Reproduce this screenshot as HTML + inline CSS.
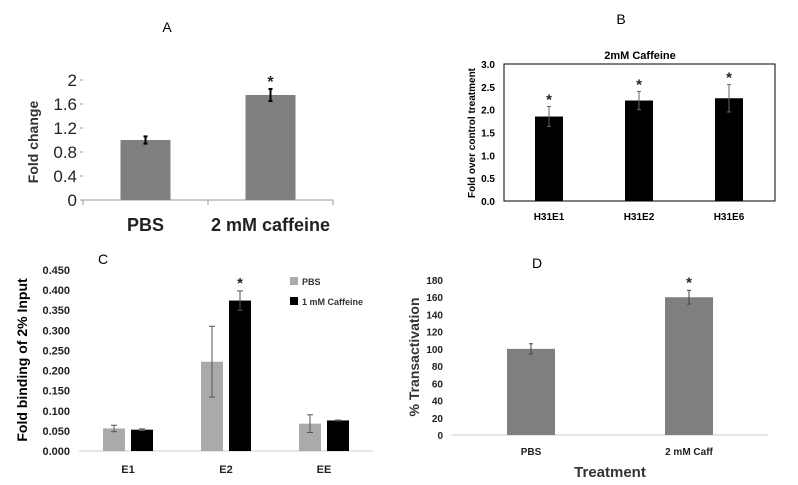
<!DOCTYPE html>
<html><head><meta charset="utf-8"><style>
html,body{margin:0;padding:0;background:#fff;}
svg{display:block;font-family:"Liberation Sans",sans-serif;}
</style></head><body>
<svg id="s" width="798" height="485" viewBox="0 0 798 485">
<text x="167" y="32" font-size="14" text-anchor="middle">A</text>
<text x="621" y="24" font-size="14" text-anchor="middle">B</text>
<text x="103" y="264" font-size="14" text-anchor="middle">C</text>
<text x="537" y="268" font-size="14" text-anchor="middle">D</text>
<text transform="translate(38,142) rotate(-90)" font-size="14" font-weight="bold" fill="#333" text-anchor="middle">Fold change</text>
<text x="640" y="59" font-size="11" font-weight="bold" text-anchor="middle">2mM Caffeine</text>
<text transform="translate(475,133) rotate(-90)" font-size="10" font-weight="bold" text-anchor="middle">Fold over control treatment</text>
<rect x="504" y="64" width="271" height="137" fill="none" stroke="#000" stroke-width="1"/>
<text transform="translate(27,360) rotate(-90)" font-size="14" font-weight="bold" text-anchor="middle">Fold binding of 2% Input</text>
<rect x="290" y="277" width="8" height="8" fill="#aaa"/>
<text x="302" y="285" font-size="9" font-weight="bold" fill="#333">PBS</text>
<rect x="290" y="297" width="8" height="8" fill="#000"/>
<text x="302" y="305" font-size="9" font-weight="bold" fill="#333">1 mM Caffeine</text>
<text transform="translate(419,357) rotate(-90)" font-size="14" font-weight="bold" fill="#333" text-anchor="middle">% Transactivation</text>
<text x="610" y="477" font-size="15" font-weight="bold" fill="#333" text-anchor="middle">Treatment</text>
</svg>
<script>
const aCats=["PBS","2 mM caffeine"];
const aVals=[1.0,1.75];
const aErr=[0.06,0.1];
const aTicks=[0,0.4,0.8,1.2,1.6,2];
const aTickLabels=["0","0.4","0.8","1.2","1.6","2"];
const aStars=[false,true];

const bCats=["H31E1","H31E2","H31E6"];
const bVals=[1.85,2.2,2.25];
const bErr=[0.22,0.2,0.3];
const bTicks=[0,0.5,1,1.5,2,2.5,3];
const bTickLabels=["0.0","0.5","1.0","1.5","2.0","2.5","3.0"];

const cCats=["E1","E2","EE"];
const cPbs=[0.056,0.222,0.068];
const cPbsErr=[0.008,0.088,0.022];
const cCaf=[0.053,0.374,0.076];
const cCafErr=[0.002,0.024,0.001];
const cTicks=[0,0.05,0.1,0.15,0.2,0.25,0.3,0.35,0.4,0.45];
const cTickLabels=["0.000","0.050","0.100","0.150","0.200","0.250","0.300","0.350","0.400","0.450"];

const dCats=["PBS","2 mM Caff"];
const dVals=[100,160];
const dErr=[6,8];
const dTicks=[0,20,40,60,80,100,120,140,160,180];
const dTickLabels=["0","20","40","60","80","100","120","140","160","180"];

const svg=document.getElementById('s');
const NS="http://www.w3.org/2000/svg";
function mk(tag,at,txt){const e=document.createElementNS(NS,tag);for(const k in at)e.setAttribute(k,at[k]);if(txt!==undefined)e.textContent=txt;svg.appendChild(e);return e;}
function scale(d0,d1,r0,r1){return v=>r0+(v-d0)/(d1-d0)*(r1-r0);}
function errBar(x,yTop,yBot,col,cap,w){
  const l=mk('line',{x1:x,x2:x,y1:yTop,y2:yBot,stroke:col,'stroke-width':w});
  
  
  [yTop,yBot].forEach(yy=>{const c=mk('line',{x1:x-cap,x2:x+cap,y1:yy,y2:yy,stroke:col,'stroke-width':w});
    
    });
}
function star(x,y,size){const s=mk('text',{x:x,y:y,'font-size':size,'text-anchor':'middle','font-weight':'bold',fill:'#222'},'*');
  
  }

// Panel A
(function(){
  const y=scale(0,2,200,80);
  const x0=83,x1=333,band=(x1-x0)/aCats.length;
  aTicks.forEach((t,i)=>{const tl=mk('text',{x:77,y:y(t)+6,'font-size':17,'text-anchor':'end',fill:'#222'},aTickLabels[i]);
    
    
    const tk=mk('line',{x1:80,x2:83,y1:y(t),y2:y(t),stroke:'#999'});
    
    });
  const ax=mk('line',{x1:x0,x2:x1,y1:y(0),y2:y(0),stroke:'#999'});
  
  
  for(let i=0;i<=aCats.length;i++){const tk=mk('line',{x1:x0+i*band,x2:x0+i*band,y1:200,y2:205,stroke:'#999'});
    
    }
  aCats.forEach((c,i)=>{const cx=x0+band*(i+0.5),w=50;
    const b=mk('rect',{x:cx-w/2,y:y(aVals[i]),width:w,height:y(0)-y(aVals[i]),fill:'#7f7f7f'});
    
    
    errBar(cx,y(aVals[i]+aErr[i]),y(aVals[i]-aErr[i]),'#000',2,2);
    if(aStars[i])star(cx,y(aVals[i]+aErr[i])-2,16);
    const l=mk('text',{x:cx,y:231,'font-size':18,'font-weight':'bold','text-anchor':'middle',fill:'#222'},c);
    
    });
})();

// Panel B
(function(){
  const y=scale(0,3,201,64);
  bTicks.forEach((t,i)=>{const tl=mk('text',{x:495,y:y(t)+4,'font-size':10,'font-weight':'bold','text-anchor':'end'},bTickLabels[i]);
    
    });
  const x0=504,band=90;
  bCats.forEach((c,i)=>{const cx=x0+band*(i+0.5),w=28;
    const b=mk('rect',{x:cx-w/2,y:y(bVals[i]),width:w,height:y(0)-y(bVals[i]),fill:'#000'});
    
    
    errBar(cx,y(bVals[i]+bErr[i]),y(bVals[i]-bErr[i]),'#666',2,1);
    star(cx,y(bVals[i]+bErr[i])-2,15);
    const l=mk('text',{x:cx,y:220,'font-size':10,'font-weight':'bold','text-anchor':'middle'},c);
    
    });
})();

// Panel C
(function(){
  const y=scale(0,0.45,451,270);
  cTicks.forEach((t,i)=>{const tl=mk('text',{x:70,y:y(t)+4,'font-size':11,'font-weight':'bold','text-anchor':'end',fill:'#222'},cTickLabels[i]);
    
    });
  const x0=79,band=98;
  const ax=mk('line',{x1:x0,x2:x0+band*3,y1:451,y2:451,stroke:'#ccc'});
  
  
  cCats.forEach((c,i)=>{const cx=x0+band*(i+0.5),w=22;
    const b1=mk('rect',{x:cx-25,y:y(cPbs[i]),width:w,height:y(0)-y(cPbs[i]),fill:'#aaa'});
    
    
    errBar(cx-14,y(cPbs[i]+cPbsErr[i]),y(cPbs[i]-cPbsErr[i]),'#555',3,1);
    const b2=mk('rect',{x:cx+3,y:y(cCaf[i]),width:w,height:y(0)-y(cCaf[i]),fill:'#000'});
    
    
    errBar(cx+14,y(cCaf[i]+cCafErr[i]),y(cCaf[i]-cCafErr[i]),'#555',3,1);
    const l=mk('text',{x:cx,y:473,'font-size':11,'font-weight':'bold','text-anchor':'middle',fill:'#222'},c);
    
    });
  star(x0+band*1.5+14,y(cCaf[1]+cCafErr[1])-3,15);
})();

// Panel D
(function(){
  const y=scale(0,180,435,280);
  dTicks.forEach((t,i)=>{const tl=mk('text',{x:443,y:y(t)+4,'font-size':10,'font-weight':'bold','text-anchor':'end',fill:'#222'},dTickLabels[i]);
    
    });
  const x0=452,x1=768,band=(x1-x0)/dCats.length;
  const ax=mk('line',{x1:x0,x2:x1,y1:435,y2:435,stroke:'#ccc'});
  
  
  dCats.forEach((c,i)=>{const cx=x0+band*(i+0.5),w=48;
    const b=mk('rect',{x:cx-w/2,y:y(dVals[i]),width:w,height:y(0)-y(dVals[i]),fill:'#7f7f7f'});
    
    
    errBar(cx,y(dVals[i]+dErr[i]),y(dVals[i]-dErr[i]),'#444',2,1);
    if(i===1)star(cx,y(dVals[i]+dErr[i])-3,15);
    const l=mk('text',{x:cx,y:455,'font-size':10,'font-weight':'bold','text-anchor':'middle',fill:'#222'},c);
    
    });
})();
</script>
</body></html>
